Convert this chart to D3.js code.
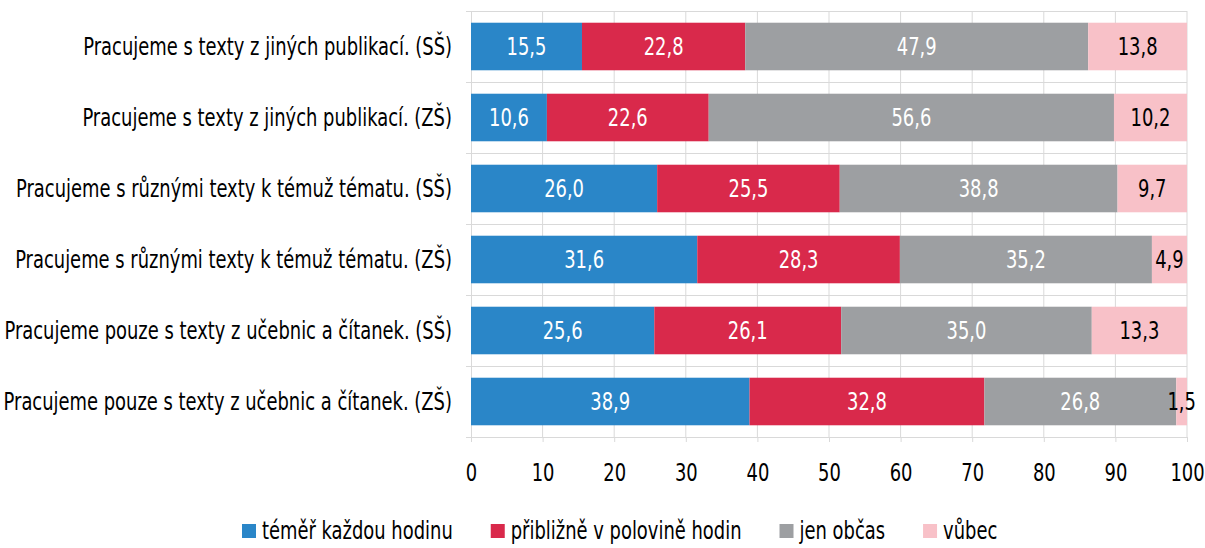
<!DOCTYPE html>
<html>
<head>
<meta charset="utf-8">
<script src="https://cdn.jsdelivr.net/npm/d3@7"></script>
<style>
  body { margin: 0; background: #fff; }
  text { font-family: "DejaVu Sans Condensed", "Liberation Sans Narrow", sans-serif; }
</style>
</head>
<body>
<script>
var width = 1205,
    height = 548;

var categories = [
  "Pracujeme s texty z jiných publikací. (SŠ)",
  "Pracujeme s texty z jiných publikací. (ZŠ)",
  "Pracujeme s různými texty k témuž tématu. (SŠ)",
  "Pracujeme s různými texty k témuž tématu. (ZŠ)",
  "Pracujeme pouze s texty z učebnic a čítanek. (SŠ)",
  "Pracujeme pouze s texty z učebnic a čítanek. (ZŠ)"
];
var seriesNames = ["téměř každou hodinu", "přibližně v polovině hodin", "jen občas", "vůbec"];
var kazdou = [15.5, 10.6, 26.0, 31.6, 25.6, 38.9];
var polovina = [22.8, 22.6, 25.5, 28.3, 26.1, 32.8];
var obcas = [47.9, 56.6, 38.8, 35.2, 35.0, 26.8];
var vubec = [13.8, 10.2, 9.7, 4.9, 13.3, 1.5];
var xTicks = [0, 10, 20, 30, 40, 50, 60, 70, 80, 90, 100];

var colors = ["#2a86c8", "#d9294b", "#9d9fa2", "#f8c1c8"];
var labelColors = ["#fff", "#fff", "#fff", "#000"];

// the original font is a condensed one, squeeze the text horizontally
var sx = 0.83;
var fontSize = "24px";

var rows = categories.map(function(c, i) {
  return { cat: c, values: [kazdou[i], polovina[i], obcas[i], vubec[i]] };
});

var margin = { top: 11, left: 471, right: 18, bottom: 111 };
var innerW = width - margin.left - margin.right,
    innerH = height - margin.top - margin.bottom;

var svg = d3.select("body").append("svg")
    .attr("width", width)
    .attr("height", height);

var g = svg.append("g").attr("transform", "translate(" + margin.left + "," + margin.top + ")");

var x = d3.scaleLinear().domain([0, 100]).range([0, innerW]);
var y = d3.scaleBand().domain(categories).range([0, innerH]).paddingInner(0.33).paddingOuter(0.165);

var gridColor = "#d9d9d9";

// vertical gridlines
g.selectAll(".vgrid")
  .data(xTicks.slice(1))
  .enter().append("line")
    .attr("x1", function(d) { return x(d); })
    .attr("x2", function(d) { return x(d); })
    .attr("y1", 0)
    .attr("y2", innerH)
    .attr("stroke", gridColor);

// horizontal band boundaries
var step = innerH / categories.length;
g.selectAll(".hgrid")
  .data(d3.range(categories.length + 1))
  .enter().append("line")
    .attr("x1", -5)
    .attr("x2", innerW)
    .attr("y1", function(d) { return Math.round(d * step) + 0.5; })
    .attr("y2", function(d) { return Math.round(d * step) + 0.5; })
    .attr("stroke", gridColor);

// axis lines
g.append("line").attr("x1", 0.5).attr("x2", 0.5).attr("y1", 0).attr("y2", innerH + 5).attr("stroke", gridColor);

var xAxis = g.append("g")
    .attr("transform", "translate(0," + innerH + ")")
    .call(d3.axisBottom(x).tickValues(xTicks).tickSize(5).tickPadding(22));
xAxis.select(".domain").attr("stroke", gridColor);
xAxis.selectAll(".tick line").attr("stroke", gridColor);
xAxis.selectAll(".tick text")
    .attr("fill", "#000")
    .attr("transform", "scale(" + sx + ",1)")
    .style("font-size", fontSize)
    .style("font-family", "'DejaVu Sans Condensed', 'Liberation Sans Narrow', sans-serif");

// category labels
g.selectAll(".cat")
  .data(categories)
  .enter().append("text")
    .attr("transform", function(d) {
      return "translate(-19," + (y(d) + y.bandwidth() / 2) + ") scale(" + sx + ",1)";
    })
    .attr("dy", "0.35em")
    .attr("text-anchor", "end")
    .style("font-size", fontSize)
    .text(function(d) { return d; });

// stacked bars
var rowG = g.selectAll(".row")
  .data(rows)
  .enter().append("g")
    .attr("transform", function(d) { return "translate(0," + y(d.cat) + ")"; });

rowG.each(function(r) {
  var acc = 0;
  var segs = r.values.map(function(v, k) {
    var s = { x0: acc, x1: acc + v, v: v, k: k };
    acc += v;
    return s;
  });
  var sel = d3.select(this);
  sel.selectAll("rect")
    .data(segs)
    .enter().append("rect")
      .attr("x", function(d) { return x(d.x0); })
      .attr("width", function(d) { return x(d.x1) - x(d.x0); })
      .attr("y", 0)
      .attr("height", y.bandwidth())
      .attr("fill", function(d) { return colors[d.k]; });
  sel.selectAll("text")
    .data(segs)
    .enter().append("text")
      .attr("transform", function(d) {
        return "translate(" + (x(d.x0) + x(d.x1)) / 2 + "," + y.bandwidth() / 2 + ") scale(" + sx + ",1)";
      })
      .attr("dy", "0.35em")
      .attr("text-anchor", "middle")
      .attr("fill", function(d) { return labelColors[d.k]; })
      .style("font-size", fontSize)
      .text(function(d) { return d3.format(".1f")(d.v).replace(".", ","); });
});

// legend
var legend = svg.append("g").attr("transform", "translate(242,524)");
var lx = 0;
seriesNames.forEach(function(name, i) {
  var item = legend.append("g").attr("transform", "translate(" + lx + ",0)");
  item.append("rect").attr("width", 14).attr("height", 14).attr("fill", colors[i]);
  var t = item.append("text")
      .attr("transform", "translate(20,7) scale(" + sx + ",1)")
      .attr("dy", "0.35em")
      .style("font-size", fontSize)
      .text(name);
  lx += 20 + t.node().getComputedTextLength() * sx + 38;
});
</script>
</body>
</html>
